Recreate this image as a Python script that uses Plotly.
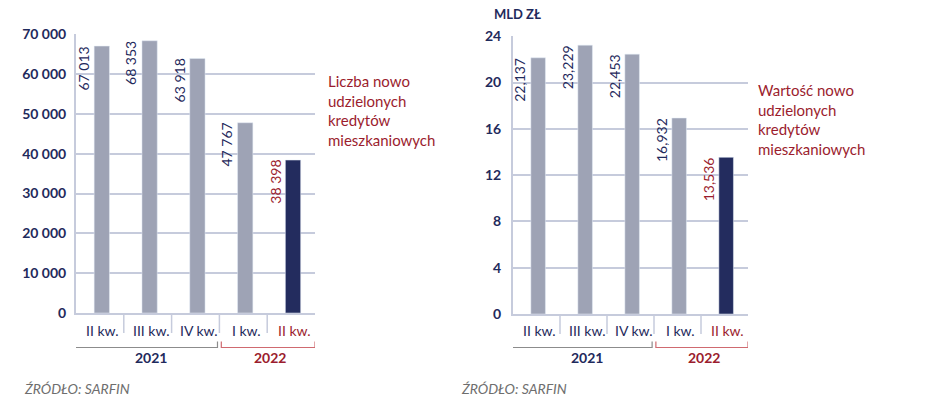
import plotly.graph_objects as go

# ---- data ----
quarters = ["II kw.", "III kw.", "IV kw.", "I kw.", "II kw."]
years = ["2021", "2021", "2021", "2022", "2022"]
count_values = [67013, 68353, 63918, 47767, 38398]
value_values = [22.137, 23.229, 22.453, 16.932, 13.536]
count_ticks = [0, 10000, 20000, 30000, 40000, 50000, 60000, 70000]
value_ticks = [0, 4, 8, 12, 16, 20, 24]
title_left = "Liczba nowo<br>udzielonych<br>kredytów<br>mieszkaniowych"
title_right = "Wartość nowo<br>udzielonych<br>kredytów<br>mieszkaniowych"
unit_right = "MLD ZŁ"
source = "ŹRÓDŁO: SARFIN"

W, H = 948, 401
NAVY = "#1f2a5c"
RED = "#9b1d2e"
GREY_BAR = "#9ea3b5"
DARK_BAR = "#232c5e"
GRID = "#c6cbdc"
FONT = "Lato"

def px(x):
    return x / W

def py(y):
    return 1 - y / H

xs = list(range(len(quarters)))
last = len(quarters) - 1
bar_colors = [GREY_BAR if i < last else DARK_BAR for i in xs]
lab_colors = [NAVY if i < last else RED for i in xs]

fig = go.Figure()
fig.add_trace(go.Bar(x=xs, y=count_values, marker_color=bar_colors, width=0.32, offset=-0.12,
                     xaxis="x", yaxis="y", hoverinfo="skip"))
fig.add_trace(go.Bar(x=xs, y=value_values, marker_color=bar_colors, width=0.31, offset=-0.12,
                     xaxis="x2", yaxis="y2", hoverinfo="skip"))

panels = [
    dict(xa="x", ya="y", vals=count_values, x0=76, x1=315, y0=313, y1=34,
         fmt=lambda v: f"{v:,}".replace(",", " "), title=title_left, tx=326, ty=70),
    dict(xa="x2", ya="y2", vals=value_values, x0=513, x1=748, y0=314, y1=36,
         fmt=lambda v: f"{v:.3f}".replace(".", ","), title=title_right, tx=756, ty=79),
]

annotations = []
shapes = []
for p in panels:
    xref, yref = p["xa"], p["ya"]
    for i, v in enumerate(p["vals"]):
        annotations.append(dict(x=i, y=v, xref=xref, yref=yref, text=p["fmt"](v),
                                textangle=-90, showarrow=False, xanchor="right",
                                yanchor="top", xshift=-6, yshift=2,
                                font=dict(family=FONT, size=14, color=lab_colors[i])))
        annotations.append(dict(x=i, y=py(330), xref=xref, yref="paper", text=quarters[i],
                                showarrow=False, xanchor="center", yanchor="middle",
                                xshift=3,
                                font=dict(family=FONT, size=14, color=lab_colors[i])))
    # separators between categories
    for i in range(1, len(quarters)):
        shapes.append(dict(type="line", xref=xref, yref="paper", x0=i - 0.5, x1=i - 0.5,
                           y0=py(p["y0"]), y1=py(p["y0"] + 20),
                           line=dict(color=GRID, width=1.5)))
    # year brackets
    groups = []
    for i, yv in enumerate(years):
        if groups and groups[-1][0] == yv:
            groups[-1][2] = i
        else:
            groups.append([yv, i, i])
    for gi, (yv, a, b) in enumerate(groups):
        col = "#8c8c8c" if gi == 0 else "#cf6a70"
        tcol = NAVY if gi == 0 else RED
        xa0 = a - 0.5 + (0.04 if gi > 0 else -0.03)
        xa1 = b + 0.5 - (0.04 if gi < len(groups) - 1 else 0.0)
        yb = py(347.5)
        yt = py(341.5)
        shapes.append(dict(type="path", xref=xref, yref="paper",
                           path=f"M {xa0},{yt} L {xa0},{yb} L {xa1},{yb} L {xa1},{yt}",
                           line=dict(color=col, width=1.2)))
        annotations.append(dict(x=(a + b) / 2, y=py(357.5), xref=xref, yref="paper", text=yv,
                                showarrow=False, xanchor="center", yanchor="middle",
                                xshift=3,
                                font=dict(family=FONT, size=14, color=tcol, weight=700)))
    annotations.append(dict(x=px(p["tx"]), y=py(p["ty"]), xref="paper", yref="paper",
                            text=p["title"], showarrow=False, xanchor="left", yanchor="top",
                            align="left",
                            font=dict(family=FONT, size=15, color=RED)))
    annotations.append(dict(x=px(p["x0"] - 54), y=py(388), xref="paper", yref="paper",
                            text=f"<i>{source}</i>", showarrow=False, xanchor="left",
                            yanchor="middle",
                            font=dict(family=FONT, size=14, color="#6e6e6e")))

annotations.append(dict(x=px(492), y=py(14), xref="paper", yref="paper", text=unit_right,
                        showarrow=False, xanchor="left", yanchor="middle",
                        font=dict(family=FONT, size=13, color=NAVY, weight=700)))

axis_common = dict(showgrid=False, zeroline=False, showline=True, linecolor=GRID,
                   linewidth=2, ticks="", showticklabels=False, fixedrange=True,
                   automargin=False)
yaxis_common = dict(showgrid=True, gridcolor=GRID, gridwidth=2, zeroline=False,
                    showline=True, linecolor=GRID, linewidth=2, ticks="",
                    tickfont=dict(family=FONT, size=14, color=NAVY, weight=700),
                    fixedrange=True, automargin=False)

fig.update_layout(
    width=W, height=H,
    autosize=False,
    margin=dict(l=0, r=0, t=0, b=0, pad=0, autoexpand=False),
    paper_bgcolor="white", plot_bgcolor="white",
    showlegend=False,
    separators=", ",
    font=dict(family=FONT),
    xaxis=dict(domain=[px(76), px(315)], range=[-0.5, 4.5], anchor="y", **axis_common),
    yaxis=dict(domain=[py(313), py(34)], range=[0, 70050], tickvals=count_ticks,
               tickformat=",d", anchor="x", ticklabelstandoff=5, **yaxis_common),
    xaxis2=dict(domain=[px(513), px(748)], range=[-0.5, 4.5], anchor="y2", **axis_common),
    yaxis2=dict(domain=[py(314), py(36)], range=[0, 24.02], tickvals=value_ticks,
                anchor="x2", ticklabelstandoff=7, **yaxis_common),
    annotations=annotations,
    shapes=shapes,
    bargap=0.5,
)

fig.write_html("out.html")
